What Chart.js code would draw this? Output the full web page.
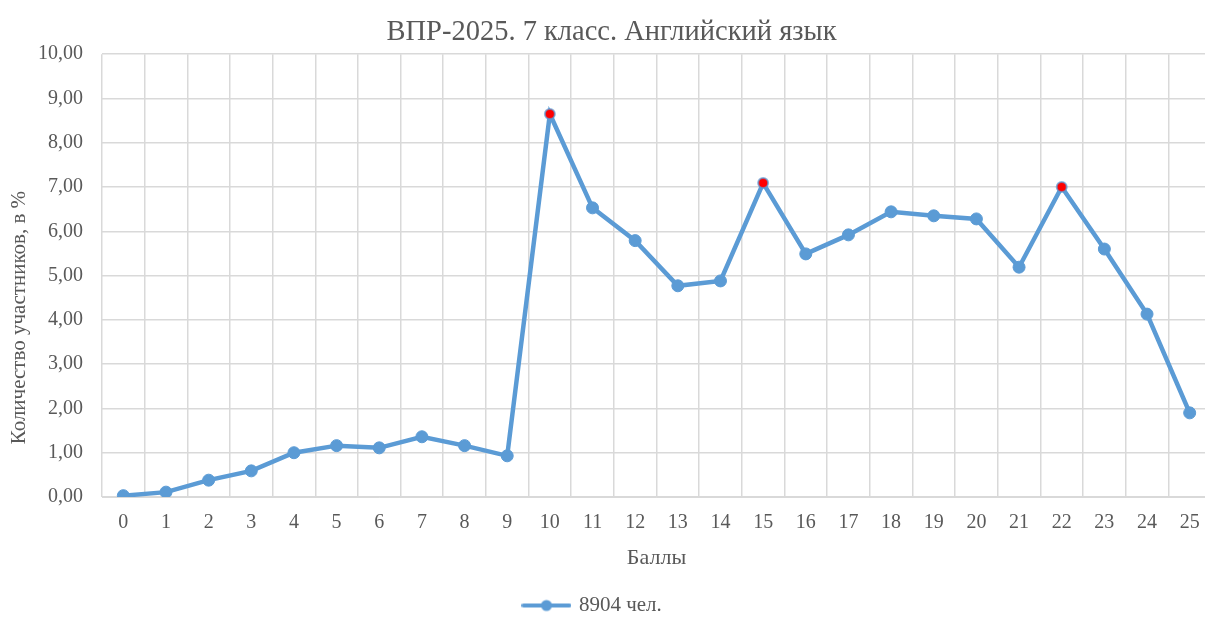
<!DOCTYPE html>
<html>
<head>
<meta charset="utf-8">
<script src="https://cdn.jsdelivr.net/npm/chart.js@4"></script>
<style>
  html, body { margin: 0; padding: 0; background: #fff; overflow: hidden; }
  #wrap { width: 1218px; height: 619px; }
</style>
</head>
<body>
<div id="wrap"><canvas id="chart"></canvas></div>
<script>
// Scores (x categories)
const scores = ['0','1','2','3','4','5','6','7','8','9','10','11','12','13','14','15','16','17','18','19','20','21','22','23','24','25'];
// Share of participants, %
const shares = [0.03, 0.11, 0.38, 0.59, 1.00, 1.16, 1.11, 1.36, 1.16, 0.93, 8.65, 6.53, 5.79, 4.77, 4.88, 7.09, 5.49, 5.92, 6.44, 6.35, 6.28, 5.19, 7.00, 5.60, 4.13, 1.90];
// Highlighted peaks
const peaks = ['10', '15', '22'];

const BLUE = '#5b9bd5';
const RED = '#ff0000';
const isPeak = scores.map(s => peaks.includes(s));

const serif = "'Liberation Serif', 'Times New Roman', serif";
Chart.defaults.font.family = serif;
Chart.defaults.color = '#595959';

// legend marker: line with a dot
const marker = document.createElement('canvas');
marker.width = 50;
marker.height = 14;
const mctx = marker.getContext('2d');
mctx.strokeStyle = BLUE;
mctx.lineWidth = 4;
mctx.lineCap = 'round';
mctx.beginPath();
mctx.moveTo(2, 7);
mctx.lineTo(48, 7);
mctx.stroke();
mctx.fillStyle = BLUE;
mctx.beginPath();
mctx.arc(25, 7, 5.5, 0, Math.PI * 2);
mctx.fill();

new Chart(document.getElementById('chart'), {
  type: 'line',
  data: {
    labels: scores,
    datasets: [{
      label: '8904 чел.',
      data: shares,
      borderColor: BLUE,
      backgroundColor: BLUE,
      borderWidth: 4.5,
      pointRadius: isPeak.map(p => p ? 5 : 6),
      pointBackgroundColor: isPeak.map(p => p ? RED : BLUE),
      pointBorderColor: isPeak.map(p => p ? 'rgba(91,155,213,0.7)' : BLUE),
      pointBorderWidth: isPeak.map(p => p ? 2 : 1),
      tension: 0
    }]
  },
  options: {
    responsive: true,
    maintainAspectRatio: false,
    animation: false,
    layout: { padding: { top: 0, left: 5, right: 0, bottom: -7 } },
    plugins: {
      title: {
        display: true,
        text: 'ВПР-2025. 7 класс. Английский язык',
        font: { size: 28.5, weight: 'normal' },
        color: '#595959',
        padding: { top: 15, bottom: 5 }
      },
      legend: {
        position: 'bottom',
        labels: {
          font: { size: 21 },
          color: '#595959',
          usePointStyle: true,
          pointStyle: marker,
          pointStyleWidth: 44,
          padding: 0,
          // trailing spaces keep the item a little left of centre, as in the original
          generateLabels: chart => Chart.defaults.plugins.legend.labels.generateLabels(chart)
            .map(item => Object.assign(item, { text: item.text + '       ', pointStyle: marker }))
        }
      },
      tooltip: { enabled: false }
    },
    scales: {
      x: {
        offset: true,
        grid: { offset: true, color: '#d9d9d9', lineWidth: 1.5, drawTicks: false },
        border: { color: '#d9d9d9' },
        ticks: { font: { size: 20 }, padding: 14, maxRotation: 0 },
        title: { display: true, text: 'Баллы', font: { size: 22 }, padding: { top: 9, bottom: 24 } },
        afterFit: scale => { scale.height = 98; }
      },
      y: {
        min: 0,
        max: 10,
        grid: { color: '#d9d9d9', lineWidth: 1.5, drawTicks: false },
        border: { display: false },
        ticks: {
          stepSize: 1,
          font: { size: 20 },
          padding: 19,
          callback: v => v.toFixed(2).replace('.', ',')
        },
        title: {
          display: true,
          text: 'Количество участников, в %                ',
          font: { size: 21 },
          padding: { top: 2, bottom: 6 }
        },
        afterFit: scale => { scale.width = 97; }
      }
    }
  }
});
</script>
</body>
</html>
